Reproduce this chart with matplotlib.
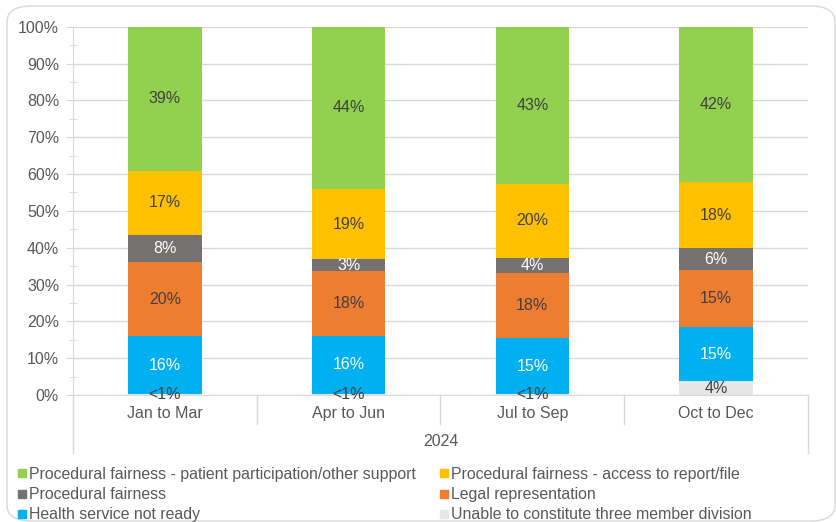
import matplotlib
matplotlib.use('Agg')
from matplotlib import pyplot as plt
from matplotlib.patches import FancyBboxPatch
from matplotlib.lines import Line2D
import numpy as np

plt.rcParams['font.family'] = ['Liberation Sans', 'DejaVu Sans']

quarters = ['Jan to Mar', 'Apr to Jun', 'Jul to Sep', 'Oct to Dec']
year = '2024'

# shares in percent, bottom segment first
unable = [0.3, 0.3, 0.3, 3.7]
health = [15.6, 15.8, 15.1, 14.8]
legal = [20.1, 17.6, 17.6, 15.4]
proc = [7.5, 3.1, 4.2, 5.9]
access = [17.4, 19.2, 20.2, 17.9]
patient = [39.1, 44.0, 42.6, 42.3]

# printed labels
unable_lbl = ['<1%', '<1%', '<1%', '4%']
health_lbl = ['16%', '16%', '15%', '15%']
legal_lbl = ['20%', '18%', '18%', '15%']
proc_lbl = ['8%', '3%', '4%', '6%']
access_lbl = ['17%', '19%', '20%', '18%']
patient_lbl = ['39%', '44%', '43%', '42%']

series = [
    ('Unable to constitute three member division', unable, unable_lbl, '#E7E6E6', '#404040'),
    ('Health service not ready', health, health_lbl, '#00B0F0', 'white'),
    ('Legal representation', legal, legal_lbl, '#ED7D31', '#404040'),
    ('Procedural fairness', proc, proc_lbl, '#767171', 'white'),
    ('Procedural fairness - access to report/file', access, access_lbl, '#FFC000', '#404040'),
    ('Procedural fairness - patient participation/other support', patient, patient_lbl, '#92D050', '#404040'),
]

fig = plt.figure(figsize=(8.37, 5.22), dpi=100)
frame = FancyBboxPatch((7/837, 1/522), 828/837, 515/522,
                       boxstyle='round,pad=0,rounding_size=0.03',
                       transform=fig.transFigure, fc='none', ec='#D9D9D9', lw=1)
fig.patches.append(frame)
ax = fig.add_axes([73/837, 127/522, 735/837, 368.3/522])
ax.set_facecolor('none')

x = np.arange(len(quarters))
bottom = np.zeros(len(quarters))
for name, vals, lbls, col, tcol in series:
    b = ax.bar(x, vals, 0.4, bottom=bottom, color=col, label=name, zorder=2)
    ax.bar_label(b, labels=lbls, label_type='center', color=tcol, fontsize=11.5)
    bottom += np.array(vals)

ax.set_xlim(-0.5, 3.5)
ax.set_ylim(0, 100)
ax.set_yticks(np.arange(0, 101, 10))
ax.set_yticklabels(['%d%%' % v for v in range(0, 101, 10)])
ax.set_yticks(np.arange(5, 100, 10), minor=True)
ax.tick_params(axis='y', which='major', length=5, color='#D9D9D9', labelcolor='#595959',
               labelsize=11.5, pad=5)
ax.tick_params(axis='y', which='minor', length=6, direction='inout', color='#D9D9D9')
ax.set_xticks([])
ax.grid(axis='y', color='#D9D9D9', lw=1, zorder=0)
for s in ['top', 'right']:
    ax.spines[s].set_visible(False)
ax.spines['left'].set_color('#D9D9D9')
ax.spines['bottom'].set_color('#D9D9D9')

# multi-level category axis
tr = ax.get_xaxis_transform()
for xs in [0.5, 1.5, 2.5]:
    ax.plot([xs, xs], [0, -0.079], transform=tr, color='#D9D9D9', lw=1, clip_on=False)
for xs in [-0.5, 3.5]:
    ax.plot([xs, xs], [0, -0.157], transform=tr, color='#D9D9D9', lw=1, clip_on=False)
for i, q in enumerate(quarters):
    ax.text(i, -0.049, q, transform=tr, ha='center', va='center', fontsize=11.5, color='#595959')
ax.text(1.5, -0.125, year, transform=tr, ha='center', va='center', fontsize=11.5, color='#595959')

order = [5, 3, 1, 4, 2, 0]
handles = [Line2D([], [], marker='s', ls='', color=series[i][3], markersize=5.5) for i in order]
labels = [series[i][0] for i in order]
fig.legend(handles, labels, loc='upper left', bbox_to_anchor=(10/837, 1 - 459/522), ncol=2,
           frameon=False, fontsize=11.4, handlelength=0.5, handletextpad=0.2,
           columnspacing=1.5, labelspacing=0.33, borderpad=0, labelcolor='#595959')

plt.savefig('out.png', dpi=100)
